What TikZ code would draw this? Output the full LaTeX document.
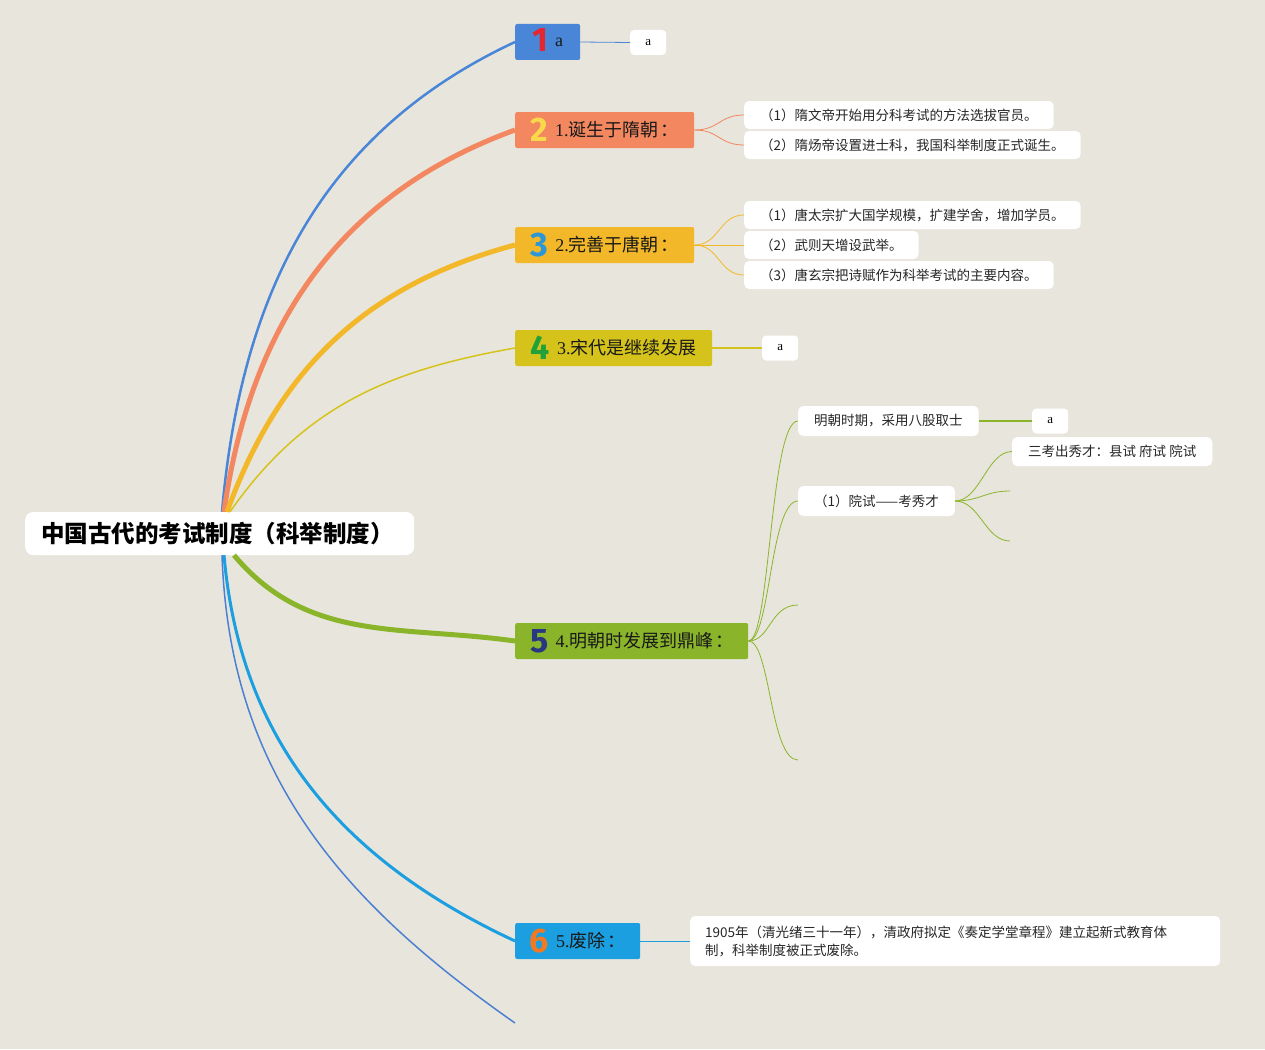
\documentclass[tikz,border=0pt]{standalone}
\usepackage{fontspec}
\setmainfont{Liberation Serif}
\newfontfamily\cjk{Noto Sans CJK SC}
\newfontfamily\numfont{Fira Sans}
\usepackage{xcolor}
\usepackage{tikz}
\usetikzlibrary{positioning}

\definecolor{bgcol}{HTML}{E8E5DC}
\definecolor{cone}{HTML}{4A86D8}
\definecolor{ctwo}{HTML}{F28760}
\definecolor{cthree}{HTML}{F2B829}
\definecolor{cfour}{HTML}{D5C31B}
\definecolor{cfive}{HTML}{8AB52A}
\definecolor{csix}{HTML}{1C9FE0}
\definecolor{cseven}{HTML}{4C80D2}
\definecolor{nred}{HTML}{E3262F}
\definecolor{nyel}{HTML}{F9D84B}
\definecolor{nblu}{HTML}{2B97D6}
\definecolor{ngrn}{HTML}{22A03A}
\definecolor{nnavy}{HTML}{283782}
\definecolor{nora}{HTML}{F07A22}

\newcommand\tnum[2]{\smash{\raisebox{-5pt}{\numfont\bfseries\fontsize{34}{34}\selectfont\color{#1}#2}}\hspace{7pt}}

\begin{document}
\begin{tikzpicture}[x=1pt, y=1pt,
  rootbox/.style={rectangle, fill=white, rounded corners=8pt, text width=357pt, align=left, minimum height=43pt, inner xsep=16pt, anchor=west, font=\cjk\bfseries\fontsize{23.5}{26}\selectfont},
  topic/.style={rectangle, rounded corners=2pt, minimum height=36pt, inner xsep=8pt, inner ysep=0pt, anchor=west, font=\cjk\fontsize{18}{20}\selectfont, text=black!90},
  leaf/.style={rectangle, fill=white, rounded corners=5pt, minimum height=28pt, inner xsep=16pt, inner ysep=2pt, anchor=west, font=\cjk\fontsize{13.5}{18}\selectfont, text=black!85},
  tinyleaf/.style={rectangle, fill=white, rounded corners=4pt, minimum width=36pt, minimum height=25pt, inner sep=0pt, anchor=west, font=\rmfamily\fontsize{13}{15}\selectfont},
  twig/.style={line width=0.8pt}
]
\fill[bgcol] (0,0) rectangle (1265,-1049);
\useasboundingbox (0,0) rectangle (1265,-1049);

% root and main topics
\node[rootbox] (root) at (25,-533.5) {中国古代的考试制度（科举制度）};

\node[topic, fill=cone, minimum width=65pt] (t1) at (515,-42) {\tnum{nred}{1}{\rmfamily a}};
\node[topic, fill=ctwo, minimum width=179pt] (t2) at (515,-130) {\tnum{nyel}{2}{\rmfamily 1.}诞生于隋朝\hspace{2pt}：};
\node[topic, fill=cthree, minimum width=179pt] (t3) at (515,-245) {\tnum{nblu}{3}{\rmfamily 2.}完善于唐朝\hspace{2pt}：};
\node[topic, fill=cfour, minimum width=197pt] (t4) at (515,-348) {\tnum{ngrn}{4}{\rmfamily 3.}宋代是继续发展};
\node[topic, fill=cfive, minimum width=233pt] (t5) at (515,-641) {\tnum{nnavy}{5}{\rmfamily 4.}明朝时发展到鼎峰\hspace{2pt}：};
\node[topic, fill=csix, minimum width=125pt] (t6) at (515,-941) {\tnum{nora}{6}{\rmfamily 5.}废除\hspace{2pt}：};
\coordinate (t7) at (515,-1023);

% leaves
\node[tinyleaf] (l1) at (630,-42.5) {a};
\node[leaf] (l21) at (744,-115) {（1）隋文帝开始用分科考试的方法选拔官员。};
\node[leaf] (l22) at (744,-145) {（2）隋炀帝设置进士科，我国科举制度正式诞生。};
\node[leaf] (l31) at (744,-215) {（1）唐太宗扩大国学规模，扩建学舍，增加学员。};
\node[leaf] (l32) at (744,-245) {（2）武则天增设武举。};
\node[leaf] (l33) at (744,-275) {（3）唐玄宗把诗赋作为科举考试的主要内容。};
\node[tinyleaf] (l4) at (762,-348) {a};
\node[leaf, minimum height=30pt] (l51) at (798,-421) {明朝时期，采用八股取士};
\node[tinyleaf] (l511) at (1032,-421) {a};
\node[leaf, minimum height=30pt] (l52) at (798,-501) {（1）院试——考秀才};
\node[leaf, minimum height=29pt] (l521) at (1012,-451.5) {三考出秀才：县试 府试 院试};
\coordinate (l522) at (1010,-491);
\coordinate (l523) at (1010,-541);
\coordinate (l53) at (798,-605);
\coordinate (l54) at (798,-760);
\node[leaf, text width=500pt, align=left, inner xsep=15pt, minimum height=50pt] (l6) at (690,-941)
  {1905年（清光绪三十一年），清政府拟定《奏定学堂章程》建立起新式教育体\\制，科举制度被正式废除。};

% branches from root
\draw[cone, line width=2.5pt] ([xshift=197pt]root.north west) to[out=85, in=205] (t1.west);
\draw[ctwo, line width=5pt] ([xshift=199pt]root.north west) to[out=82, in=200] (t2.west);
\draw[cthree, line width=5pt] ([xshift=202pt]root.north west) to[out=70, in=195] (t3.west);
\draw[cfour, line width=1.5pt] ([xshift=205pt]root.north west) to[out=55, in=190] (t4.west);
\draw[cfive, line width=5pt] ([xshift=209pt]root.south west) to[out=-50, in=172] (t5.west);
\draw[csix, line width=3pt] ([xshift=199pt]root.south west) to[out=-85, in=155] (t6.west);
\draw[cseven, line width=1.5pt] ([xshift=197pt]root.south west) to[out=-88, in=145] (t7);

% sub branches
\draw[cone, twig] (t1.east) -- (l1.west);
\foreach \k in {l21,l22}
  \draw[ctwo, twig] (t2.east) .. controls +(25,0) and +(-25,0) .. (\k.west);
\foreach \k in {l31,l32,l33}
  \draw[cthree, twig] (t3.east) .. controls +(25,0) and +(-25,0) .. (\k.west);
\draw[cfour, line width=1.2pt] (t4.east) -- (l4.west);
\foreach \k in {l51,l52}
  \draw[cfive, twig] (t5.east) .. controls +(22,0) and +(-28,0) .. (\k.west);
\foreach \k in {l53,l54}
  \draw[cfive, twig] (t5.east) .. controls +(22,0) and +(-28,0) .. (\k);
\draw[cfive, line width=2pt] (l51.east) -- (l511.west);
\draw[cfive, twig] (l52.east) .. controls +(25,0) and +(-25,0) .. (l521.west);
\foreach \k in {l522,l523}
  \draw[cfive, twig] (l52.east) .. controls +(25,0) and +(-25,0) .. (\k);
\draw[csix, twig] (t6.east) -- (l6.west);

\end{tikzpicture}
\end{document}
